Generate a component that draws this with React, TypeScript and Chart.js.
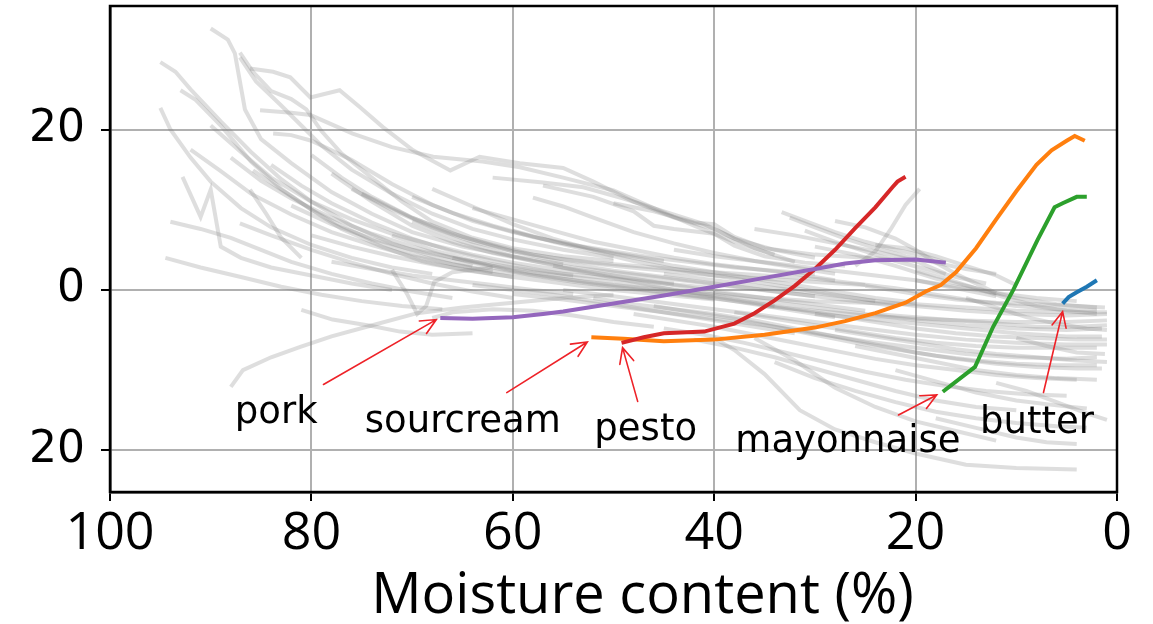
import { useEffect, useRef } from "react";
import { Chart, registerables } from "chart.js";

Chart.register(...registerables);

// Axis ranges and ticks
const X_MIN = 0;
const X_MAX = 100;
const Y_MIN = -25.2;
const Y_MAX = 35.4;
const xTickStep = 20;
const yTickValues = [-20, 0, 20];
const yTickLabels = ["20", "0", "20"];
const xAxisTitle = "Moisture content (%)";

// Highlighted foods (x = moisture %, y = response)
const butterX = [5.4, 4.8, 4.0, 3.0, 2.0];
const butterY = [-1.7, -0.9, -0.3, 0.4, 1.2];

const sourcreamX = [52.2, 49, 45, 40, 35, 30, 27, 24, 21, 19, 17.5, 16, 14, 12, 10, 8, 6.5, 5, 4.2, 3.2];
const sourcreamY = [-5.9, -6.1, -6.4, -6.2, -5.6, -4.7, -3.9, -2.9, -1.6, -0.2, 0.6, 2.2, 5.2, 8.8, 12.3, 15.6, 17.4, 18.6, 19.2, 18.6];

const mayonnaiseX = [17.3, 14.1, 12.3, 10.3, 7.9, 6.2, 5.4, 4.0, 3.0];
const mayonnaiseY = [-12.7, -9.6, -4.6, 0.0, 6.2, 10.3, 10.8, 11.6, 11.6];

const pestoX = [49.2, 47, 45, 41, 38, 36, 34, 32, 30, 28, 26, 24, 22.3, 21.8, 21];
const pestoY = [-6.6, -5.9, -5.4, -5.2, -4.2, -2.9, -1.3, 0.5, 2.6, 5.0, 7.7, 10.3, 12.8, 13.5, 14.1];

const porkX = [67.2, 64, 60, 57, 55, 50, 45, 40, 35, 30, 27, 24, 20, 17];
const porkY = [-3.5, -3.6, -3.4, -3.0, -2.7, -1.7, -0.7, 0.4, 1.5, 2.6, 3.3, 3.7, 3.8, 3.4];

const highlightNames = ["butter", "sourcream", "mayonnaise", "pesto", "pork"];
const highlightX = [butterX, sourcreamX, mayonnaiseX, pestoX, porkX];
const highlightY = [butterY, sourcreamY, mayonnaiseY, pestoY, porkY];
const highlightColors = ["#1f77b4", "#ff7f0e", "#2ca02c", "#d62728", "#9467bd"];

// Remaining foods, each trace as x, y, x, y, ...
const otherFoods: number[][] = [
  [90, 32.6, 88.3, 31.2, 87.6, 29.5, 86.6, 22.5, 85, 18.8, 82, 15.8, 78, 12.2, 74, 9.5, 70, 7.2, 65, 5.4, 60, 4.2, 55, 3.2],
  [95, 28.4, 93.5, 27.2, 92, 25, 89, 21, 86, 17.2, 83, 13.8, 80, 11, 76, 8, 72, 5.8, 68, 4.2, 64, 3],
  [95, 22.7, 94, 20, 92, 16.5, 90, 13.5, 87, 10.2, 84, 7.8, 80, 5.6, 76, 4, 72, 2.8, 68, 2],
  [93, 24.9, 91.5, 23.7, 89, 20.5, 86, 16, 83, 12.6, 80, 10, 77, 7.6, 73, 5.4, 69, 3.6, 65, 2.5, 60, 1.6],
  [87.1, 29.6, 85.8, 27.2, 84, 24.8, 82, 23.8, 80.5, 22.5, 79, 19.8, 77, 17, 74, 14, 71, 11, 68, 8.5, 64, 6.5, 60, 5.2, 55, 4.2, 50, 3.6],
  [86.1, 27.6, 83.8, 27.2, 82.1, 26.5, 80.1, 24, 77.2, 24.9, 75.2, 22.8, 72.9, 20.3, 69.9, 17.4, 66.2, 14.9, 63.3, 16.6, 59.3, 15.8, 55, 15.2, 52, 13.5, 48, 11, 44, 9, 40, 7.6, 36, 5.2, 32, 3.5],
  [85.1, 22.4, 82, 22.1, 80.1, 21.8, 75.9, 19.5, 72, 17.8, 67.9, 16.6, 63, 16, 59.3, 15.3, 55, 14, 50, 12.4, 46, 10.2, 42, 8, 38, 6, 34, 4.4],
  [87.1, 29, 85.5, 26, 83, 23, 81, 20.5, 79, 18, 76, 15, 72, 12, 68, 9.5, 64, 7.6, 60, 6.3, 55, 5, 50, 4],
  [83.8, 19.5, 82, 19.3, 80, 18.6, 76, 16.2, 72, 13.2, 68, 10.6, 64, 8.6, 60, 7.2, 55, 5.8, 50, 4.6, 45, 3.6],
  [94, 8.5, 91, 7.6, 88, 6.5, 85, 5, 82, 3.5, 78, 2, 74, 0.8, 70, -0.2, 66, -1],
  [92.8, 14.1, 91, 9.1, 90, 12.5, 89, 5.4, 87, 4, 84, 2.8, 80, 1.8, 76, 0.8, 72, 0],
  [85.8, 14.9, 83, 12.5, 80, 10, 77, 8, 74, 6.2, 70, 4.5, 66, 3.2, 62, 2.2],
  [86.1, 12.5, 84.5, 9.5, 83, 6.5, 81, 4],
  [87.1, 8.3, 84, 6.8, 80, 5, 76, 3.4, 72, 2, 68, 0.8, 64, -0.2, 60, -1],
  [82, 10.5, 78, 8.2, 74, 6.4, 70, 5, 65, 3.8, 60, 2.8, 55, 2, 50, 1.4, 45, 0.8, 40, 0.2],
  [80, 6.8, 76, 5.4, 72, 4.2, 68, 3.2, 64, 2.4, 60, 1.6, 55, 0.8, 50, 0, 45, -0.6, 40, -1.2],
  [78, 3.5, 74, 2.6, 70, 1.8, 66, 1.2, 62, 0.6, 58, 0, 54, -0.5],
  [88, -12.1, 86.8, -10, 84, -8.4, 81.1, -7.1, 78, -5.8, 74.5, -4.6, 69.5, -2.9, 65, -2.2, 60, -1.6, 55, -1, 50, -0.6],
  [81, -2.5, 77.9, -3.7, 74, -4.5, 71.2, -5.2, 68, -5.6, 64, -5.4],
  [72, 2.5, 70.5, -0.5, 69.5, -3, 68.6, -2, 67.8, 1, 66, 2.2, 62, 2.8],
  [68, -3.5, 66, -2.8, 62, -2.4, 58, -2.6, 54, -3.2, 50, -4, 46, -4.6],
  [75, 12, 70, 9, 65, 6.6, 60, 4.8, 55, 3.4, 50, 2.4, 45, 1.6, 40, 0.8, 35, 0, 30, -0.8],
  [70, 8.5, 65, 6, 60, 4.2, 55, 2.8, 50, 1.8, 45, 0.8, 40, -0.2, 35, -1, 30, -1.8, 25, -2.6],
  [66, 4, 62, 2.8, 58, 1.8, 54, 1, 50, 0.4, 46, -0.2, 42, -0.8, 38, -1.4, 34, -2],
  [60, 7.4, 56, 6, 52, 4.8, 48, 3.6, 44, 2.6, 40, 1.8, 36, 1, 32, 0.2, 28, -0.6, 24, -1.4],
  [64, 10.2, 60, 8.8, 56, 7.4, 52, 6, 48, 5, 44, 4, 40, 3.2, 36, 2.6, 32, 2, 28, 1.2],
  [58, 11.5, 55, 10.4, 52, 9, 48, 7.2, 44, 5.8, 40, 4.6, 36, 3.6, 32, 2.8, 28, 2],
  [62, 14, 57, 13.4, 53, 12.8, 49, 11.4, 45, 9.8, 41, 8.2, 38, 6.4, 34, 5, 30, 4],
  [57, 13, 52, 11.6, 48, 9.8, 46, 8, 44, 7.6, 40, 7, 38, 5.5, 35, 4.2, 31, 3.4, 27, 3],
  [50, 10.8, 46, 9.8, 42, 8.4, 40, 8.2, 38, 6.6, 35, 5.2, 30, 4.4, 25, 4, 20, 3.6],
  [45, 2, 40, 1.2, 35, 0.4, 30, -0.4, 25, -1.2, 20, -2, 15, -2.6, 10, -3, 5, -3.2, 1, -3],
  [50, 1, 45, 0.2, 40, -0.6, 35, -1.4, 30, -2.2, 25, -3, 20, -3.8, 15, -4.4, 10, -4.8, 5, -5, 1.5, -4.8],
  [55, 0, 50, -0.8, 45, -1.6, 40, -2.4, 35, -3.2, 30, -4, 25, -4.8, 20, -5.6, 15, -6.2, 10, -6.6, 5, -6.8, 1, -6.8],
  [60, -0.5, 55, -1.2, 50, -2, 45, -2.8, 40, -3.6, 35, -4.4, 30, -5.4, 25, -6.4, 20, -7.2, 15, -8, 10, -8.4, 5, -8.6, 2, -8.4],
  [48, -3, 44, -3.8, 40, -4.6, 36, -5.6, 32, -6.6, 28, -7.6, 24, -8.6, 20, -9.4, 16, -10, 12, -10.6, 8, -11, 4, -11.2],
  [45, -4.8, 41, -5.6, 37, -6.6, 33, -7.8, 29, -9, 25, -10.2, 21, -11.2, 17, -12, 13, -12.6, 9, -13, 5, -13.2],
  [42, -6.2, 38, -7.2, 34, -8.4, 30, -9.8, 26, -11.2, 22, -12.6, 18, -13.8, 14, -14.6, 10, -15],
  [40, -6, 38, -7.5, 35, -10.5, 31.5, -15, 28, -17.4, 24, -19, 20, -20.4, 15, -21.8, 10, -22.2, 4, -22.4],
  [36, -6, 32, -8.8, 28, -12.2, 24, -14.6, 20, -16.4, 16, -17.6, 12, -18.8],
  [12, -11.6, 9, -12.6, 6, -14, 3, -15.4, 1, -16.2],
  [30, -3, 25, -3.6, 20, -4.2, 15, -4.8, 10, -5.4, 5, -5.8, 1.5, -5.8],
  [35, -2, 30, -2.6, 25, -3.2, 20, -3.6, 15, -3.8, 10, -4, 5, -4, 1, -3.8],
  [40, -0.4, 35, -1, 30, -1.4, 25, -1.6, 20, -1.8, 15, -2.2, 10, -2.6, 5, -2.8, 1, -2.8],
  [33.3, 9.7, 31, 8.6, 28, 7.2, 25, 6, 22, 5, 19, 4.2, 17, 3.4],
  [32.5, 9, 30, 7.8, 27, 6.4, 24, 5.2, 21, 4.2, 18, 3.4, 15, 2.6, 12, 2],
  [31, 7.4, 28, 6, 25, 4.8, 22, 3.6, 19, 2.6, 16, 1.6, 13, 0.8],
  [26, 3, 24, 4.8, 22.5, 7.5, 21, 10.6, 19.6, 12.6],
  [30, 1.4, 26, 0.8, 22, 0.2, 18, -0.6, 14, -1.4, 10, -2, 6, -2.4, 2, -2.6],
  [25, 0.5, 20, -0.5, 16, -1.2, 12, -1.6, 8, -1.8, 4, -2, 1.2, -2.2],
  [28, -5, 24, -5.8, 20, -6.6, 16, -7.4, 12, -8, 8, -8.4, 4, -8.8, 1, -9],
  [26, -7, 22, -8, 18, -9, 14, -10, 10, -10.6, 6, -11, 2, -11.2],
  [22, -10, 18, -11.4, 14, -12.8, 10, -13.8, 6, -14.4, 3, -14.8],
  [24, 5.6, 21, 5.2, 18, 4.2, 15, 3, 12, 1.8, 10, 0.6],
  [20, 1.2, 16, 0.4, 12, -0.4, 8, -1, 4, -1.4],
  [94.5, 4, 91, 2.8, 87, 1.6, 83, 0.4, 79, -0.6, 75, -1.4, 71, -2, 67, -2.4],
  [88, 16.5, 85, 13.6, 82, 11.4, 78, 9, 74, 7, 70, 5.4, 66, 4, 62, 3, 58, 2.2, 54, 1.6, 50, 1],
  [84, 15.6, 81, 13, 78, 10.8, 74, 8.4, 70, 6.4, 66, 4.8, 62, 3.6, 58, 2.6, 54, 1.8],
  [80, 16.8, 77, 14, 74, 11.6, 70, 9, 66, 7, 62, 5.6, 58, 4.4, 54, 3.6, 50, 3, 45, 2.4, 40, 1.8, 35, 1.4, 30, 1, 25, 0.6],
  [76, 12.6, 72, 10, 68, 7.8, 64, 6, 60, 4.8, 56, 4, 52, 3.4, 48, 3, 44, 2.6, 40, 2.2, 35, 1.8, 30, 1.4],
  [70, 11.6, 66, 9.6, 62, 8, 58, 6.6, 54, 5.6, 50, 4.8, 46, 4, 42, 3.4, 38, 2.8, 34, 2.4, 30, 2],
  [92, 17.5, 89, 14.8, 86, 12, 82, 9.4, 78, 7.2, 74, 5.6, 70, 4.2, 66, 3.2, 62, 2.4, 58, 1.8, 54, 1.2, 50, 0.6, 45, 0, 40, -0.6],
  [90, 20.5, 87, 17.2, 84, 14, 80, 11, 76, 8.8, 72, 7, 68, 5.6, 64, 4.4, 60, 3.4, 56, 2.6, 52, 2, 48, 1.4, 44, 0.8],
  [78, 14.5, 74, 11, 70, 8, 66, 6, 62, 4.6, 58, 3.6, 54, 2.8, 50, 2.2, 46, 1.6, 42, 1, 38, 0.4, 34, -0.2, 30, -0.8, 26, -1.4, 22, -2],
  [72, 6.8, 68, 5, 64, 3.6, 60, 2.4, 56, 1.6, 52, 0.8, 48, 0.2, 44, -0.4, 40, -1, 36, -1.8, 32, -2.6, 28, -3.4],
  [68, 12.6, 64, 10.4, 60, 8.2, 56, 6.4, 52, 5, 48, 4, 44, 3, 40, 2.2, 36, 1.4, 32, 0.6, 28, -0.2, 24, -1, 20, -1.6],
  [56, 3, 52, 2, 48, 1, 44, 0, 40, -0.8, 36, -1.6, 32, -2.4, 28, -3.2, 24, -4, 20, -4.8, 16, -5.4, 12, -5.8, 8, -6, 4, -6.2, 1, -6.2],
  [52, -1, 48, -1.8, 44, -2.4, 40, -3, 36, -3.8, 32, -4.8, 28, -5.8, 24, -6.8, 20, -7.8, 16, -8.6, 12, -9.2, 8, -9.6, 4, -9.8, 1.5, -9.8],
  [46, -2, 42, -2.8, 38, -3.6, 34, -4.6, 30, -5.6, 26, -6.6, 22, -7.4, 18, -8.2, 14, -8.8, 10, -9.2, 6, -9.4, 2, -9.4],
  [38, -2.8, 34, -3.6, 30, -4.4, 26, -5.2, 22, -6, 18, -6.6, 14, -7, 10, -7.2, 6, -7.2, 2, -7.2],
  [24, -3, 20, -3.4, 16, -3.8, 12, -4.2, 8, -4.6, 4, -4.6, 1, -4.4],
  [34, -9, 30, -11, 26, -12.6, 22, -14, 18, -15.2, 14, -16, 10, -16.6, 6, -17, 3, -17.2],
  [18, -16, 14, -17.2, 10, -18.4, 7, -19, 4, -19.2],
  [28, 8.6, 25, 7.8, 22, 6.4, 20, 5, 18, 3.4, 16, 2, 14, 0.8, 12, -0.4],
  [20, 2.4, 17, 1.4, 14, 0.2, 11, -1, 8, -2, 5, -2.6, 2, -3],
  [15, -1, 12, -2.2, 9, -3.4, 6, -4.2, 3, -4.8, 1, -5],
  [10, -6, 7, -7, 4, -7.8, 1.2, -8],
  [64, 0.6, 60, 0, 56, -0.6, 52, -1.4, 48, -2.2, 44, -3, 40, -3.8, 36, -4.6, 32, -5.4],
  [44, 5, 40, 4.2, 36, 3.6, 32, 3, 28, 2.4, 24, 1.8, 20, 1.2, 16, 0.2, 12, -0.8],
  [36, 7.6, 32, 6.8, 28, 5.8, 24, 4.8, 20, 3.6, 17, 2],
  [30, 5.4, 26, 4.4, 22, 3, 18, 1.4, 14, 0.2, 10, -1, 6, -1.8, 2, -2.2],
];

// Callout labels with arrows pointing at the start of each highlighted trace
const calloutText = ["pork", "sourcream", "pesto", "mayonnaise", "butter"];
const calloutTextX = [87.6, 74.7, 51.9, 37.9, 13.6];
const calloutTextY = [-16.6, -17.7, -18.7, -20.2, -17.8];
const arrowTailX = [78.8, 60.6, 47.6, 21.7, 7.3];
const arrowTailY = [-11.8, -12.8, -13.9, -15.6, -12.8];
const arrowTipX = [67.6, 52.6, 49.1, 17.9, 5.4];
const arrowTipY = [-3.7, -6.5, -7.2, -13.1, -2.7];

const toPoints = (xs: number[], ys: number[]) => xs.map((x, i) => ({ x, y: ys[i] }));
const pairsToPoints = (flat: number[]) => {
  const pts: { x: number; y: number }[] = [];
  for (let i = 0; i + 1 < flat.length; i += 2) pts.push({ x: flat[i], y: flat[i + 1] });
  return pts;
};

const overlayPlugin = {
  id: "overlay",
  afterDatasetsDraw(chart: any) {
    const { ctx, chartArea, scales } = chart;
    const xs = scales.x;
    const ys = scales.y;
    ctx.save();

    // arrows
    ctx.strokeStyle = "#ee2228";
    ctx.lineWidth = 1.6;
    ctx.lineCap = "round";
    for (let i = 0; i < calloutText.length; i++) {
      const x0 = xs.getPixelForValue(arrowTailX[i]);
      const y0 = ys.getPixelForValue(arrowTailY[i]);
      const x1 = xs.getPixelForValue(arrowTipX[i]);
      const y1 = ys.getPixelForValue(arrowTipY[i]);
      const ang = Math.atan2(y1 - y0, x1 - x0);
      const head = 17;
      const spread = (25 * Math.PI) / 180;
      ctx.beginPath();
      ctx.moveTo(x0, y0);
      ctx.lineTo(x1, y1);
      ctx.moveTo(x1 - head * Math.cos(ang - spread), y1 - head * Math.sin(ang - spread));
      ctx.lineTo(x1, y1);
      ctx.lineTo(x1 - head * Math.cos(ang + spread), y1 - head * Math.sin(ang + spread));
      ctx.stroke();
    }

    // labels
    ctx.fillStyle = "#000";
    ctx.font = "37px 'DejaVu Sans'";
    ctx.textAlign = "left";
    ctx.textBaseline = "alphabetic";
    for (let i = 0; i < calloutText.length; i++) {
      ctx.fillText(calloutText[i], xs.getPixelForValue(calloutTextX[i]), ys.getPixelForValue(calloutTextY[i]));
    }

    // plot frame
    ctx.strokeStyle = "#000";
    ctx.lineWidth = 2.5;
    ctx.strokeRect(chartArea.left, chartArea.top, chartArea.right - chartArea.left, chartArea.bottom - chartArea.top);

    // x-axis title
    ctx.font = "56px 'Open Sans'";
    ctx.textAlign = "center";
    ctx.fillText(xAxisTitle, (chartArea.left + chartArea.right) / 2 + 29, chartArea.bottom + 121);

    ctx.restore();
  },
};

export default function App() {
  const canvasRef = useRef<HTMLCanvasElement | null>(null);

  useEffect(() => {
    const canvas = canvasRef.current;
    if (!canvas) return;

    const grayDatasets = otherFoods.map((flat) => ({
      data: pairsToPoints(flat),
      borderColor: "rgba(128,128,128,0.26)",
      borderWidth: 4,
      pointRadius: 0,
      tension: 0,
      order: 100,
    }));

    const colorDatasets = highlightNames.map((name, i) => ({
      label: name,
      data: toPoints(highlightX[i], highlightY[i]),
      borderColor: highlightColors[i],
      borderWidth: 4,
      pointRadius: 0,
      tension: 0,
      order: highlightNames.length - i,
    }));

    const chart = new Chart(canvas, {
      type: "line",
      data: { datasets: [...grayDatasets, ...colorDatasets] },
      options: {
        animation: false,
        responsive: false,
        devicePixelRatio: 1,
        layout: { padding: { top: 6, right: 36, left: 0, bottom: 0 } },
        plugins: { legend: { display: false }, tooltip: { enabled: false } },
        scales: {
          x: {
            type: "linear",
            reverse: true,
            min: X_MIN,
            max: X_MAX,
            ticks: {
              stepSize: xTickStep,
              color: "#000",
              padding: 2,
              font: { family: "'Open Sans'", size: 52 },
              maxRotation: 0,
            },
            grid: { color: "#b0b0b0", lineWidth: 2, tickColor: "#000", tickLength: 9, tickWidth: 2 },
            border: { display: true, color: "#000", width: 2.5 },
            afterFit: (scale: any) => {
              scale.height = 132;
              scale.paddingLeft = 0;
              scale.paddingRight = 0;
            },
          },
          y: {
            type: "linear",
            min: Y_MIN,
            max: Y_MAX,
            afterBuildTicks: (scale: any) => {
              scale.ticks = yTickValues.map((v) => ({ value: v }));
            },
            ticks: {
              color: "#000",
              padding: 16,
              font: { family: "'DejaVu Sans'", size: 44 },
              callback: (_v: any, index: number) => yTickLabels[index],
            },
            grid: { color: "#b0b0b0", lineWidth: 2, tickColor: "#000", tickLength: 9, tickWidth: 2 },
            border: { display: true, color: "#000", width: 2.5 },
            afterFit: (scale: any) => {
              scale.width = 110;
              scale.paddingTop = 0;
              scale.paddingBottom = 0;
            },
          },
        },
      },
      plugins: [overlayPlugin],
    });

    return () => chart.destroy();
  }, []);

  return (
    <div style={{ position: "fixed", left: 0, top: 0, width: 1153, height: 624, background: "#fff" }}>
      <canvas ref={canvasRef} width={1153} height={624} />
    </div>
  );
}
